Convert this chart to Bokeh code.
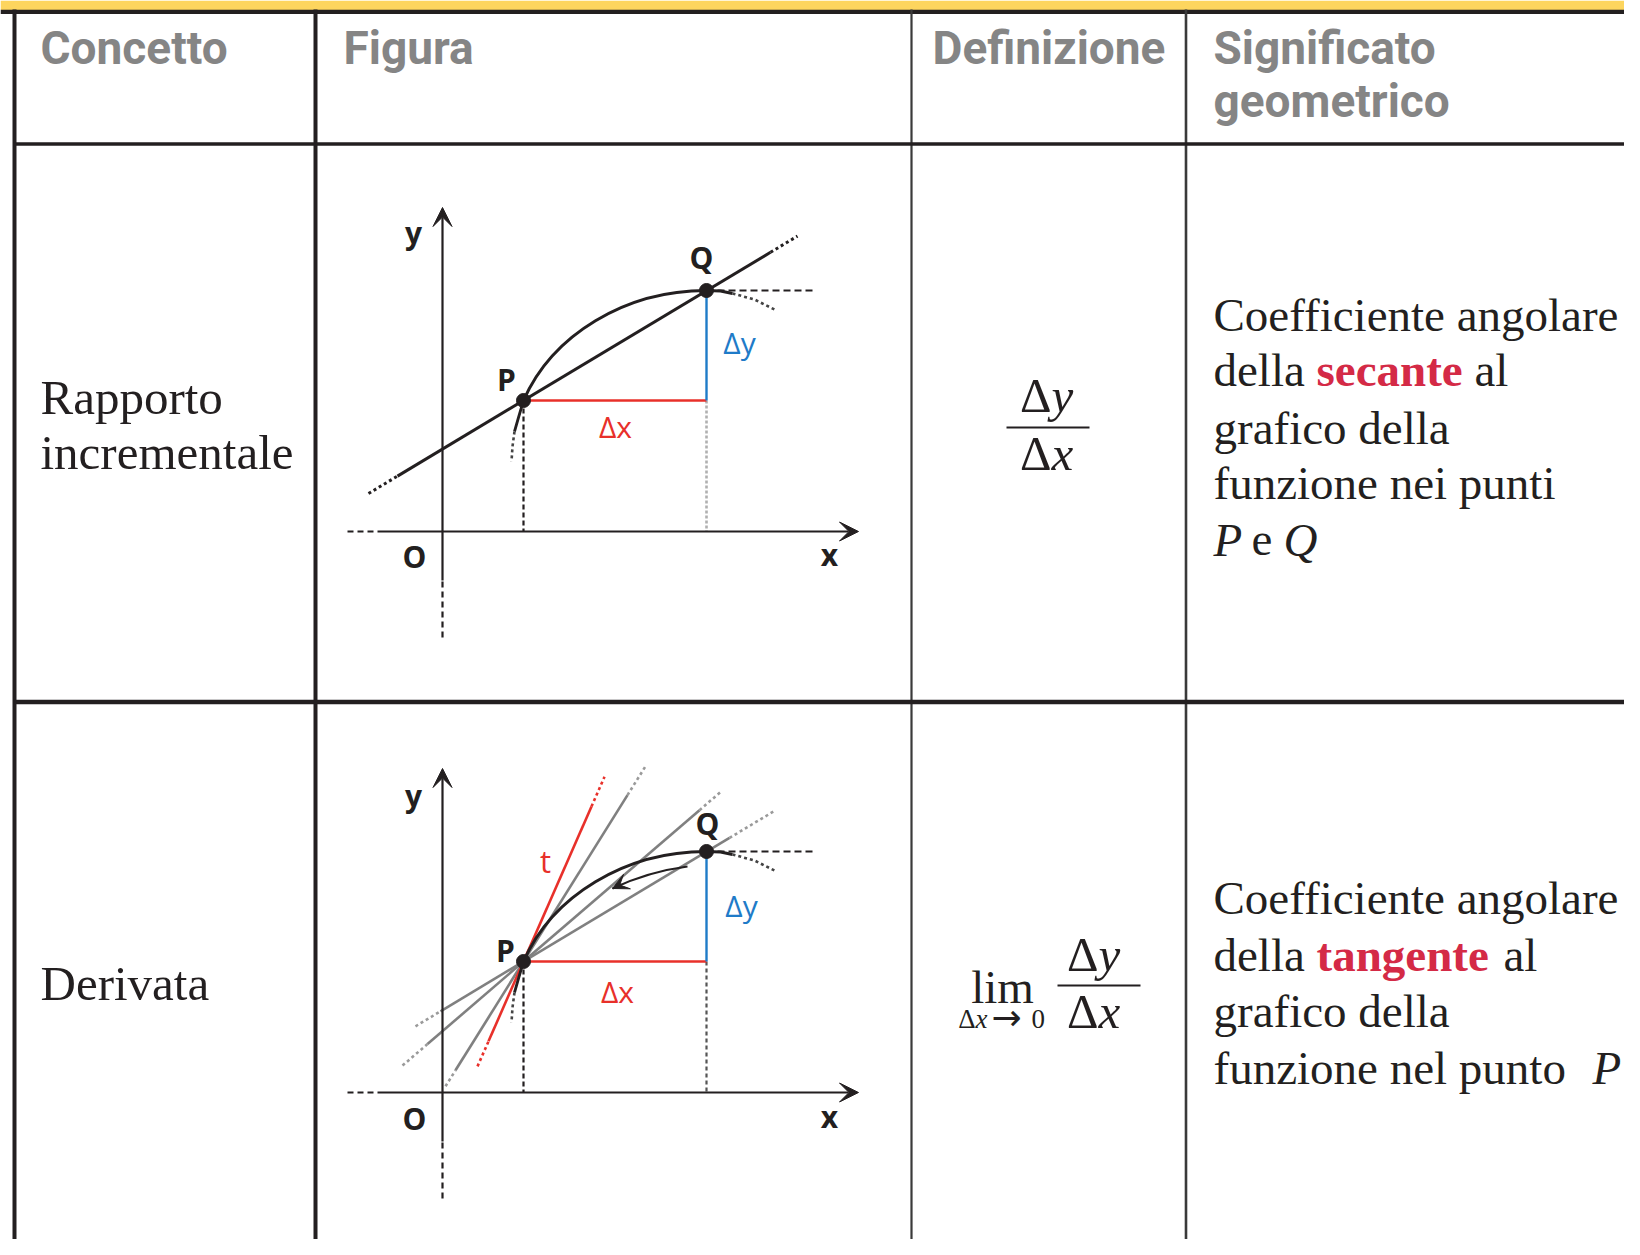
import numpy as np
from bokeh.plotting import figure
from bokeh.models import Range1d, Arrow, VeeHead
from bokeh.core.properties import value
from bokeh.embed import file_html
from bokeh.resources import INLINE

# ------------------------------------------------------------------ content
header_titles = ["Concetto", "Figura", "Definizione", "Significato", "geometrico"]
concept_names = ["Rapporto", "incrementale", "Derivata"]
secant_plain = ["Coefficiente angolare", "della", "al", "grafico della", "funzione nei punti", "e"]
secant_word = ["secante"]
secant_points = ["P", "Q"]
tangent_plain = ["Coefficiente angolare", "della", "al", "grafico della", "funzione nel punto"]
tangent_word = ["tangente"]
tangent_points = ["P"]
delta_sym = ["Δ", "Δ"]
delta_vars = ["y", "x"]
lim_word = ["lim"]
lim_sub = ["Δ", "x", "→", "0"]

# diagram (own units, origin O, y upward)
pt_names = ["P", "Q"]
pt_x = [81, 264]
pt_y = [131, 241]
arc_ctrl_x = [110, 183]          # bezier controls of the curve P -> Q
arc_ctrl_y = [197, 241]
tail_low_solid_x = [81, 76, 72]
tail_low_solid_y = [131, 114, 100]
tail_low_dot_x = [72, 70, 69]
tail_low_dot_y = [100, 85, 70]
tail_right_solid_x = [264, 278, 290]
tail_right_solid_y = [241, 240.5, 238]
tail_right_dot_x = [290, 312, 332]
tail_right_dot_y = [238, 232, 222]

# lines through P (fig 1: secant; fig 2: tangent + secants)
# x: dotted-low, solid-low, solid-high, dotted-high ; m: slope
secant1 = dict(x=[-74, -45, 328, 355], m=0.600)
fig2_lines = [
    dict(x=[35, 46, 149, 162], m=2.28),
    dict(x=[3, 13, 185, 203], m=1.60),
    dict(x=[-40, -15, 257, 278], m=0.86),
    dict(x=[-27, -2, 287, 333], m=0.600),
]
arrow_curve_x = [245, 206, 170]
arrow_curve_y = [226, 221, 204]

# ------------------------------------------------------------------ styles
INK = "#231f20"
GREY_HEAD = "#858585"
RED = "#e8302a"
BLUE = "#1f7bc8"
CRIMSON = "#d42a46"
GLINE = "#808080"
SERIF = value("Liberation Serif")
SANS = value("Open Sans")

p = figure(width=1624, height=1239, x_range=Range1d(0, 1624), y_range=Range1d(1239, 0),
           output_backend="svg", toolbar_location=None, min_border=0,
           x_axis_type=None, y_axis_type=None)
p.grid.visible = False
p.outline_line_color = None
p.background_fill_color = "white"
p.border_fill_color = "white"

# ------------------------------------------------------------------ table frame
p.quad(left=[0], right=[1640], top=[0], bottom=[9.5], fill_color="#fdd55e", line_color=None)
p.segment(x0=[0], y0=[11.3], x1=[1640], y1=[11.3], line_color=INK, line_width=4.3)
p.segment(x0=[14, 315], y0=[9, 9], x1=[14, 315], y1=[1260, 1260], line_color=INK, line_width=4)
p.segment(x0=[911], y0=[9], x1=[911], y1=[1260], line_color="#3a3a3a", line_width=2.2)
p.segment(x0=[1185.5], y0=[9], x1=[1185.5], y1=[1260], line_color="#3a3a3a", line_width=2.6)
p.segment(x0=[14], y0=[143.5], x1=[1640], y1=[143.5], line_color=INK, line_width=3.5)
p.segment(x0=[14], y0=[701.5], x1=[1640], y1=[701.5], line_color=INK, line_width=4.5)

# ------------------------------------------------------------------ header
p.text(x=[40, 343, 932, 1213, 1213], y=[47, 47, 47, 47, 100], text=header_titles,
       text_font=value("Roboto"), text_font_style="bold", text_font_size="46px",
       text_color=GREY_HEAD, text_align="left", text_baseline="middle")

# ------------------------------------------------------------------ concept column
p.text(x=[40, 40, 40], y=[397, 452, 983], text=concept_names, text_font=SERIF,
       text_font_size="49px", text_color=INK, text_align="left", text_baseline="middle")

# ------------------------------------------------------------------ meaning column
def serif_text(xs, ys, texts, color=INK, style="normal"):
    p.text(x=xs, y=ys, text=texts, text_font=SERIF, text_font_size="47px",
           text_color=color, text_font_style=style, text_align="left",
           text_baseline="middle")

serif_text([1213, 1213, 1474, 1213, 1213, 1251], [314, 369, 369, 427, 482, 539], secant_plain)
serif_text([1316], [369], secant_word, color=CRIMSON, style="bold")
serif_text([1213, 1283], [539, 539], secant_points, style="italic")
serif_text([1213, 1213, 1503, 1213, 1213], [897, 954, 954, 1010, 1067], tangent_plain)
serif_text([1316], [954], tangent_word, color=CRIMSON, style="bold")
serif_text([1592], [1067], tangent_points, style="italic")

# ------------------------------------------------------------------ definitions
def fraction(xc, y_num, y_bar, y_den, half):
    p.text(x=[xc, xc], y=[y_num, y_den], text=delta_sym, text_font=SERIF,
           text_font_size="49px", text_color=INK, text_align="right", text_baseline="middle")
    p.text(x=[xc, xc], y=[y_num, y_den], text=delta_vars, text_font=SERIF,
           text_font_style="italic", text_font_size="49px", text_color=INK,
           text_align="left", text_baseline="middle")
    p.segment(x0=[xc - half[0]], y0=[y_bar], x1=[xc + half[1]], y1=[y_bar],
              line_color=INK, line_width=2)

fraction(1051, 395, 427, 453, (45, 38))
fraction(1098, 954, 985, 1011, (41, 42))
p.text(x=[1002], y=[986], text=lim_word, text_font=SERIF, text_font_size="47px",
       text_color=INK, text_align="center", text_baseline="middle")
p.text(x=[975], y=[1018], text=lim_sub[:1], text_font=SERIF, text_font_size="27px",
       text_color=INK, text_align="right", text_baseline="middle")
p.text(x=[975], y=[1018], text=lim_sub[1:2], text_font=SERIF, text_font_size="27px",
       text_font_style="italic", text_color=INK, text_align="left", text_baseline="middle")
p.text(x=[991], y=[1017], text=lim_sub[2:3], text_font=value("DejaVu Sans"), text_font_size="36px",
       text_color=INK, text_align="left", text_baseline="middle")
p.text(x=[1031], y=[1018], text=lim_sub[3:], text_font=SERIF, text_font_size="27px",
       text_color=INK, text_align="left", text_baseline="middle")

# ------------------------------------------------------------------ diagrams
def draw_diagram(O, lab, show_tangent):
    X = lambda xs: [O[0] + v for v in xs]
    Y = lambda ys: [O[1] - v for v in ys]
    Px, Py = pt_x[0], pt_y[0]
    Qx, Qy = pt_x[1], pt_y[1]

    # axes
    p.segment(x0=X([-95]), y0=Y([0]), x1=X([-65]), y1=Y([0]), line_color=INK,
              line_width=2.2, line_dash="6 4")
    p.add_layout(Arrow(end=VeeHead(size=19, fill_color=INK, line_color=INK, line_width=1),
                       x_start=X([-65])[0], y_start=Y([0])[0], x_end=X([416])[0], y_end=Y([0])[0],
                       line_color=INK, line_width=2.2))
    p.segment(x0=X([0]), y0=Y([-106]), x1=X([0]), y1=Y([-49]), line_color=INK,
              line_width=2.2, line_dash="6 4")
    p.add_layout(Arrow(end=VeeHead(size=19, fill_color=INK, line_color=INK, line_width=1),
                       x_start=X([0])[0], y_start=Y([-49])[0], x_end=X([0])[0], y_end=Y([324])[0],
                       line_color=INK, line_width=2.2))

    # projections
    p.segment(x0=X([Px]), y0=Y([Py]), x1=X([Px]), y1=Y([0]), line_color=INK,
              line_width=2.2, line_dash="5 3")
    if show_tangent:
        p.segment(x0=X([Qx]), y0=Y([Py]), x1=X([Qx]), y1=Y([0]), line_color="#555555",
                  line_width=2.2, line_dash="4 3")
    else:
        p.segment(x0=X([Qx]), y0=Y([Py]), x1=X([Qx]), y1=Y([0]), line_color="#b0b0b0",
                  line_width=2.6, line_dash="3 2")
    # horizontal at Q
    p.segment(x0=X([Qx]), y0=Y([Qy]), x1=X([371]), y1=Y([Qy]), line_color=INK,
              line_width=2.2, line_dash="7 4")

    # straight lines through P
    def pline(spec, color, width, dot_color):
        xs = spec["x"]
        ys = [Py + spec["m"] * (v - Px) for v in xs]
        p.segment(x0=X([xs[1]]), y0=Y([ys[1]]), x1=X([xs[2]]), y1=Y([ys[2]]),
                  line_color=color, line_width=width)
        p.segment(x0=X([xs[0], xs[2]]), y0=Y([ys[0], ys[2]]), x1=X([xs[1], xs[3]]),
                  y1=Y([ys[1], ys[3]]), line_color=dot_color, line_width=width, line_dash="3 3")

    if show_tangent:
        for spec in fig2_lines[1:]:
            pline(spec, GLINE, 2.6, "#9a9a9a")
        pline(fig2_lines[0], RED, 2.6, RED)
    else:
        pline(secant1, INK, 3.0, INK)

    # curve
    p.bezier(x0=X([Px]), y0=Y([Py]), x1=X([Qx]), y1=Y([Qy]),
             cx0=X([arc_ctrl_x[0]]), cy0=Y([arc_ctrl_y[0]]),
             cx1=X([arc_ctrl_x[1]]), cy1=Y([arc_ctrl_y[1]]),
             line_color=INK, line_width=3.0)
    p.line(X(tail_low_solid_x), Y(tail_low_solid_y), line_color=INK, line_width=2.8)
    p.line(X(tail_low_dot_x), Y(tail_low_dot_y), line_color="#444444", line_width=2.6,
           line_dash="3 3")
    p.line(X(tail_right_solid_x), Y(tail_right_solid_y), line_color=INK, line_width=3.0)
    p.line(X(tail_right_dot_x), Y(tail_right_dot_y), line_color="#444444", line_width=2.6,
           line_dash="3 3")

    # increments
    p.segment(x0=X([Px]), y0=Y([Py]), x1=X([Qx]), y1=Y([Py]), line_color=RED, line_width=2.4)
    p.segment(x0=X([Qx]), y0=Y([Py]), x1=X([Qx]), y1=Y([Qy]), line_color=BLUE, line_width=2.4)

    if show_tangent:
        p.quadratic(x0=X([arrow_curve_x[0]]), y0=Y([arrow_curve_y[0]]),
                    x1=X([arrow_curve_x[2]]), y1=Y([arrow_curve_y[2]]),
                    cx=X([arrow_curve_x[1]]), cy=Y([arrow_curve_y[1]]),
                    line_color=INK, line_width=2.0)
        p.add_layout(Arrow(end=VeeHead(size=16, fill_color=INK, line_color=INK, line_width=1),
                           x_start=X([arrow_curve_x[2] + 9])[0], y_start=Y([arrow_curve_y[2] + 4.3])[0],
                           x_end=X([arrow_curve_x[2]])[0], y_end=Y([arrow_curve_y[2]])[0],
                           line_color=INK, line_width=2.0))

    # points
    p.scatter(X(pt_x), Y(pt_y), size=14, marker="circle", fill_color=INK, line_color=INK)

    # labels
    p.text(x=X([lab["y"][0], lab["O"][0], lab["x"][0], lab["P"][0], lab["Q"][0]]),
           y=Y([lab["y"][1], lab["O"][1], lab["x"][1], lab["P"][1], lab["Q"][1]]),
           text=["y", "O", "x"] + pt_names, text_font=SANS, text_font_style="bold",
           text_font_size="30px", text_color=INK, text_align="center", text_baseline="middle")
    p.text(x=X([lab["dx"][0]]), y=Y([lab["dx"][1]]), text=["Δx"], text_font=SANS,
           text_font_size="30px", text_color=RED, text_align="center", text_baseline="middle")
    p.text(x=X([lab["dy"][0]]), y=Y([lab["dy"][1]]), text=["Δy"], text_font=SANS,
           text_font_size="30px", text_color=BLUE, text_align="center", text_baseline="middle")
    if show_tangent:
        p.text(x=X([lab["t"][0]]), y=Y([lab["t"][1]]), text=["t"], text_font=SANS,
               text_font_size="31px", text_color=RED, text_align="center", text_baseline="middle")


draw_diagram((442, 531),
             dict(y=(-29, 299), O=(-28, -25), x=(387, -23), P=(64, 152), Q=(259, 274),
                  dx=(173, 105), dy=(297, 189)), False)
draw_diagram((442, 1092),
             dict(y=(-29, 297), O=(-28, -26), x=(387, -24), P=(63, 142), Q=(265, 269),
                  dx=(175, 101), dy=(299, 187), t=(103, 232)), True)

open("out.html", "w").write(file_html(p, INLINE))
